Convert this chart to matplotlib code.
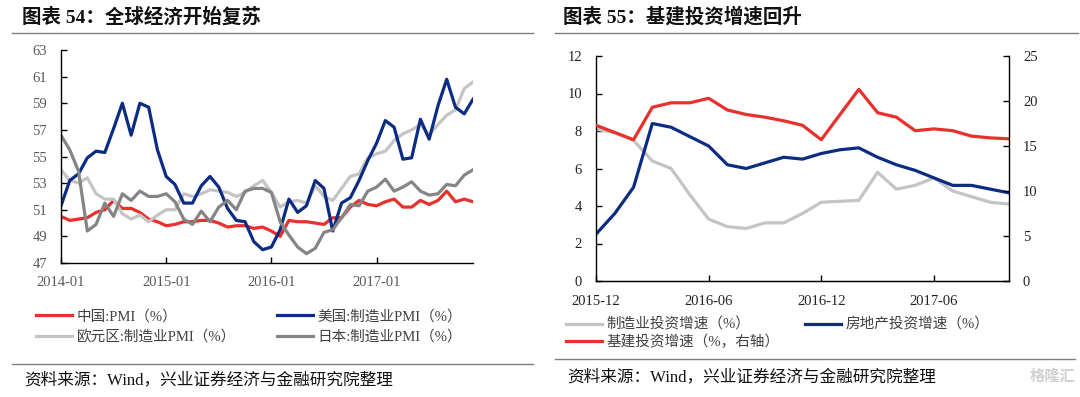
import numpy as np
import matplotlib
matplotlib.use("Agg")
import matplotlib.pyplot as plt
from matplotlib.lines import Line2D

plt.rcParams['font.family'] = ['Liberation Serif', 'Noto Sans CJK SC', 'DejaVu Sans']
plt.rcParams['axes.unicode_minus'] = False

# ---- chart 54: PMI, monthly 2014-01 .. 2017-12
pmi_ticks = ["2014-01", "2015-01", "2016-01", "2017-01"]
china_pmi = [50.5, 50.2, 50.3, 50.4, 50.8, 51.0, 51.7, 51.1, 51.1, 50.8, 50.3, 50.1,
             49.8, 49.9, 50.1, 50.1, 50.2, 50.2, 50.0, 49.7, 49.8, 49.8, 49.6, 49.7,
             49.4, 49.0, 50.2, 50.1, 50.1, 50.0, 49.9, 50.4, 50.4, 51.2, 51.7, 51.4,
             51.3, 51.6, 51.8, 51.2, 51.2, 51.7, 51.4, 51.7, 52.4, 51.6, 51.8, 51.6]
us_pmi = [51.3, 53.2, 53.7, 54.9, 55.4, 55.3, 57.1, 59.0, 56.6, 59.0, 58.7, 55.5,
          53.5, 52.9, 51.5, 51.5, 52.8, 53.5, 52.7, 51.1, 50.2, 50.1, 48.6, 48.0,
          48.2, 49.5, 51.8, 50.8, 51.3, 53.2, 52.6, 49.4, 51.5, 51.9, 53.2, 54.7,
          56.0, 57.7, 57.2, 54.8, 54.9, 57.8, 56.3, 58.8, 60.8, 58.7, 58.2, 59.3]
euro_pmi = [54.0, 53.2, 53.0, 53.4, 52.2, 51.8, 51.8, 50.7, 50.3, 50.6, 50.1, 50.6,
            51.0, 51.0, 52.2, 52.0, 52.2, 52.5, 52.4, 52.3, 52.0, 52.3, 52.8, 53.2,
            52.3, 51.2, 51.6, 51.7, 51.5, 52.8, 52.0, 51.7, 52.6, 53.5, 53.7, 54.9,
            55.2, 55.4, 56.2, 56.7, 57.0, 57.4, 56.6, 57.4, 58.1, 58.5, 60.1, 60.6]
japan_pmi = [56.6, 55.5, 53.9, 49.4, 49.9, 51.5, 50.5, 52.2, 51.7, 52.4, 52.0, 52.0,
             52.2, 51.6, 50.3, 49.9, 50.9, 50.1, 51.2, 51.7, 51.0, 52.4, 52.6, 52.6,
             52.3, 50.1, 49.1, 48.2, 47.7, 48.1, 49.3, 49.5, 50.4, 51.4, 51.3, 52.4,
             52.7, 53.3, 52.4, 52.7, 53.1, 52.4, 52.1, 52.2, 52.9, 52.8, 53.6, 54.0]

# ---- chart 55: investment growth, monthly 2015-12 .. 2017-10
inv_ticks = ["2015-12", "2016-06", "2016-12", "2017-06"]
manuf_inv = [8.1, 7.9, 7.5, 6.4, 6.0, 4.6, 3.3, 2.9, 2.8, 3.1, 3.1, 3.6,
             4.2, 4.25, 4.3, 5.8, 4.9, 5.1, 5.5, 4.8, 4.5, 4.2, 4.1]
estate_inv = [2.5, 3.6, 5.0, 8.4, 8.2, 7.7, 7.2, 6.2, 6.0, 6.3, 6.6, 6.5,
              6.8, 7.0, 7.1, 6.6, 6.2, 5.9, 5.5, 5.1, 5.1, 4.9, 4.7]
infra_inv = [17.3, 16.5, 15.7, 19.3, 19.8, 19.8, 20.3, 19.0, 18.5, 18.2, 17.8, 17.3,
             15.7, 18.5, 21.3, 18.7, 18.2, 16.7, 16.9, 16.7, 16.1, 15.9, 15.8]

RED = "#E8302C"
NAVY = "#0C2C84"
LGRAY = "#C4C4C4"
DGRAY = "#858585"
LW = 2.3
TICK_FS = 10.5
LEG_FS = 10.5

fig = plt.figure(figsize=(10.8, 3.97), dpi=100)

def style_axis(ax, label_color, xpad):
    for s in ["top", "right"]:
        ax.spines[s].set_visible(False)
    for s in ["left", "bottom"]:
        ax.spines[s].set_color("black")
        ax.spines[s].set_linewidth(1.0)
    ax.tick_params(direction="in", length=4, width=1.0, labelsize=TICK_FS,
                   labelcolor=label_color, colors="black")
    ax.tick_params(axis="y", pad=10)
    ax.tick_params(axis="x", pad=xpad)

# left chart
ax1 = fig.add_axes([61/1080, 1-263/397, (473-61)/1080, (263-50)/397])
x1 = np.arange(len(china_pmi))
ax1.plot(x1, china_pmi, color=RED, lw=LW, label="中国:PMI（%）", solid_joinstyle="round")
ax1.plot(x1, euro_pmi, color=LGRAY, lw=LW, label="欧元区:制造业PMI（%）", solid_joinstyle="round")
ax1.plot(x1, us_pmi, color=NAVY, lw=LW, label="美国:制造业PMI（%）", solid_joinstyle="round")
ax1.plot(x1, japan_pmi, color=DGRAY, lw=LW, label="日本:制造业PMI（%）", solid_joinstyle="round")
ax1.set_xlim(0, len(china_pmi) - 1)
ax1.set_ylim(47, 63)
ax1.set_yticks(np.arange(47, 64, 2))
ax1.set_xticks(np.arange(0, len(china_pmi), 12))
ax1.set_xticklabels(pmi_ticks)
style_axis(ax1, "#595959", 9)
ax1.legend(ncol=2, loc="upper left", bbox_to_anchor=(-0.061, -0.218), frameon=False,
           fontsize=LEG_FS, handlelength=2.5, handletextpad=0.3, columnspacing=2.8,
           labelspacing=0.45, borderpad=0, borderaxespad=0, labelcolor="#404040")

# right chart
ax2 = fig.add_axes([596/1080, 1-281/397, (1009-596)/1080, (281-56)/397])
x2 = np.arange(len(manuf_inv))
l_m, = ax2.plot(x2, manuf_inv, color=LGRAY, lw=LW, solid_joinstyle="round")
l_e, = ax2.plot(x2, estate_inv, color=NAVY, lw=LW, solid_joinstyle="round")
ax2.set_xlim(0, len(manuf_inv) - 1)
ax2.set_ylim(0, 12)
ax2.set_yticks(np.arange(0, 13, 2))
ax2.set_xticks(np.arange(0, len(manuf_inv), 6))
ax2.set_xticklabels(inv_ticks)
style_axis(ax2, "#222222", 10)
ax3 = ax2.twinx()
l_i, = ax3.plot(x2, infra_inv, color=RED, lw=LW, solid_joinstyle="round")
ax3.set_ylim(0, 25)
ax3.set_yticks(np.arange(0, 26, 5))
ax3.spines["top"].set_visible(False)
ax3.spines["left"].set_visible(False)
ax3.spines["right"].set_linewidth(1.0)
ax3.tick_params(direction="in", length=4, width=1.0, labelsize=TICK_FS,
                labelcolor="#222222", pad=10)
ax2.legend([l_m, l_i, l_e],
           ["制造业投资增速（%）", "基建投资增速（%，右轴）", "房地产投资增速（%）"],
           ncol=2, loc="upper left", bbox_to_anchor=(-0.073, -0.163), frameon=False,
           fontsize=LEG_FS, handlelength=2.5, handletextpad=0.3, columnspacing=1.7,
           labelspacing=0.2, borderpad=0, borderaxespad=0, labelcolor="#404040")

# titles, rules and source notes
fig.text(22/1080, 1-17/397, "图表 54：全球经济开始复苏", fontsize=14, fontweight="bold",
         va="center", ha="left", color="#111111")
fig.text(563/1080, 1-17/397, "图表 55：基建投资增速回升", fontsize=14, fontweight="bold",
         va="center", ha="left", color="#111111")
for (xa, xb) in [(12, 533), (555, 1078)]:
    fig.add_artist(Line2D([xa/1080, xb/1080], [1-33/397, 1-33/397], color="#7f7f7f", lw=1.0))
fig.add_artist(Line2D([12/1080, 533/1080], [1-364/397, 1-364/397], color="#7f7f7f", lw=1.0))
fig.add_artist(Line2D([555/1080, 1075/1080], [1-359/397, 1-359/397], color="#7f7f7f", lw=1.0))
fig.text(24/1080, 1-380/397, "资料来源：Wind，兴业证券经济与金融研究院整理", fontsize=12,
         va="center", ha="left", color="#111111")
fig.text(567/1080, 1-377/397, "资料来源：Wind，兴业证券经济与金融研究院整理", fontsize=12,
         va="center", ha="left", color="#111111")
fig.text(1075/1080, 1-377/397, "格隆汇", fontsize=11, va="center", ha="right",
         color="#d0d0d0", fontweight="bold")

fig.savefig("out.png", dpi=100)
